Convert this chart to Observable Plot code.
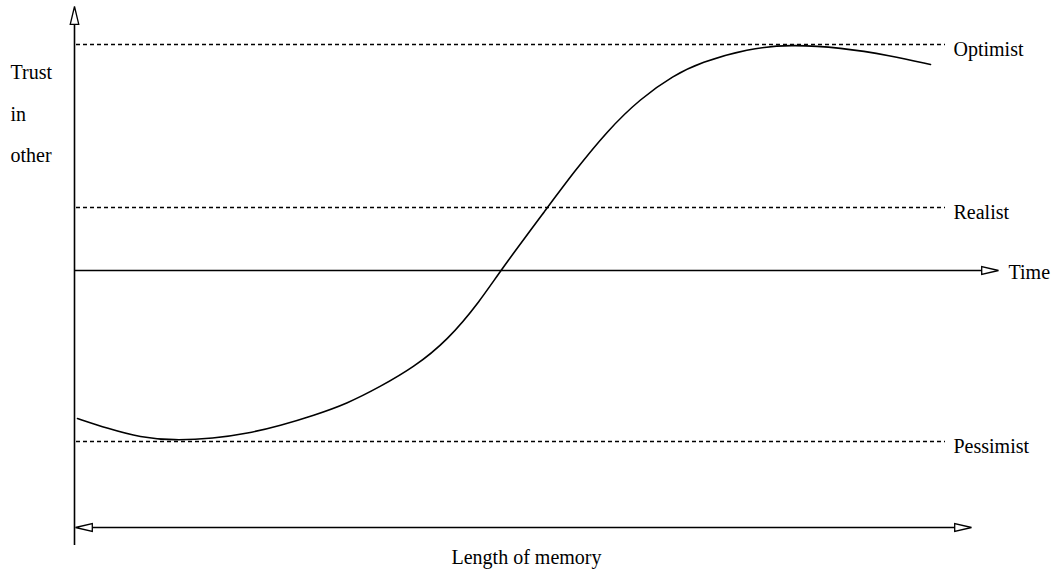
<!DOCTYPE html>
<html>
<head>
<meta charset="utf-8">
<script src="https://cdn.jsdelivr.net/npm/d3@7"></script>
<script src="https://cdn.jsdelivr.net/npm/@observablehq/plot@0.6"></script>
<style>
  html, body { margin: 0; padding: 0; background: #fff; }
  #chart svg { display: block; }
  #chart svg, #chart svg text { font-family: "Liberation Serif", "Times New Roman", serif !important; }
</style>
</head>
<body>
<div id="chart"></div>
<script>
// Length of memory (x) and trust in other (y), in schematic units
const memory = [3, 33, 66, 99, 139, 173, 206, 239, 273, 306, 339, 373, 406, 426, 473, 499, 533, 566, 599, 626, 673, 716, 766, 816, 856];
const trust  = [-148, -158, -167, -170, -168, -163, -155, -145, -133, -116, -97, -70, -30, 0, 63, 98, 140, 172, 195, 208, 222, 226, 223, 215, 206];

const levelNames = ["Optimist", "Realist", "Pessimist"];
const levelValues = [226, 63, -171];

const yLabelLines = ["Trust", "in", "other"];
const yLabelValues = [198, 156, 115];

const xAxisLabel = "Time";
const memoryLabel = "Length of memory";

const curve = memory.map((m, i) => ({m, t: trust[i]}));
const levels = levelNames.map((name, i) => ({name, v: levelValues[i]}));
const yLabels = yLabelLines.map((text, i) => ({text, v: yLabelValues[i]}));

// extents of the schematic
const levelStart = 2, levelEnd = 871, labelX = 879;
const timeEnd = 924, memStart = 1, memEnd = 897, memY = -257;
const yAxisBottom = -275, yAxisTop = 264;

// open triangular arrowhead, tip at the origin, pointing right
const arrowHead = {
  draw(context, size) {
    const r = Math.sqrt(size / Math.PI);
    const L = r * 2.1, w = r * 0.5;
    context.moveTo(0, 0);
    context.lineTo(-L, -w);
    context.lineTo(-L, w);
    context.closePath();
  }
};

const font = "Liberation Serif, Times New Roman, serif";

const chart = Plot.plot({
  width: 1058,
  height: 572,
  margin: 0,
  x: {domain: [-74, 984], axis: null},
  y: {domain: [-302, 270], axis: null},
  style: {background: "#fff"},
  marks: [
    // dotted reference levels
    Plot.ruleY(levels, {y: "v", x1: levelStart, x2: levelEnd, stroke: "#000", strokeWidth: 1.3, strokeDasharray: "4,3"}),
    Plot.text(levels, {x: labelX, y: "v", text: "name", textAnchor: "start", dy: 5, fontSize: 20, fontFamily: font, fill: "#000"}),
    // y axis
    Plot.ruleX([0], {y1: yAxisBottom, y2: yAxisTop - 10, stroke: "#000", strokeWidth: 1.6}),
    Plot.dot([{x: 0, y: yAxisTop}], {x: "x", y: "y", r: 8.5, symbol: arrowHead, rotate: -90, stroke: "#000", fill: "#fff", strokeWidth: 1.3}),
    // time axis
    Plot.ruleY([0], {x1: 0, x2: timeEnd - 10, stroke: "#000", strokeWidth: 1.6}),
    Plot.dot([{x: timeEnd, y: 0}], {x: "x", y: "y", r: 8, symbol: arrowHead, stroke: "#000", fill: "#fff", strokeWidth: 1.3}),
    Plot.text([xAxisLabel], {x: timeEnd + 10, y: 0, text: d => d, textAnchor: "start", dy: 2, fontSize: 20, fontFamily: font, fill: "#000"}),
    // length of memory double arrow
    Plot.ruleY([memY], {x1: memStart + 10, x2: memEnd - 10, stroke: "#000", strokeWidth: 1.6}),
    Plot.dot([{x: memEnd, y: memY, a: 0}, {x: memStart, y: memY, a: 180}], {x: "x", y: "y", r: 8, symbol: arrowHead, rotate: "a", stroke: "#000", fill: "#fff", strokeWidth: 1.3}),
    Plot.text([memoryLabel], {x: 452, y: -287, text: d => d, textAnchor: "middle", fontSize: 20, fontFamily: font, fill: "#000"}),
    // y label
    Plot.text(yLabels, {x: -64, y: "v", text: "text", textAnchor: "start", fontSize: 20, fontFamily: font, fill: "#000"}),
    // trust curve
    Plot.line(curve, {x: "m", y: "t", curve: "basis", stroke: "#000", strokeWidth: 1.6})
  ]
});
document.getElementById("chart").appendChild(chart);
</script>
</body>
</html>
